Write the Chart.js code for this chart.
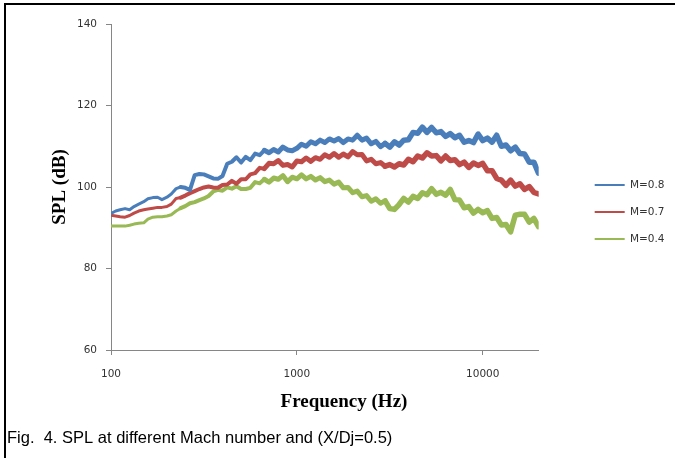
<!DOCTYPE html>
<html>
<head>
<meta charset="utf-8">
<script src="https://cdn.jsdelivr.net/npm/chart.js@4.4.1/dist/chart.umd.min.js"></script>
<style>
html, body { margin: 0; padding: 0; background: #fff; }
#wrap { width: 675px; height: 458px; position: relative; }
</style>
</head>
<body>
<div id="wrap"><canvas id="spl"></canvas></div>
<script>
// frequency bins (Hz), log spaced
const freq = [100, 106, 112, 119, 126, 133, 141, 150, 158, 168,
    178, 188, 200, 211, 224, 237, 251, 266, 282, 299,
    316, 335, 355, 376, 398, 422, 447, 473, 501, 531,
    562, 596, 631, 668, 708, 750, 794, 841, 891, 944,
    1000, 1059, 1122, 1189, 1259, 1334, 1413, 1496, 1585, 1679,
    1778, 1884, 1995, 2113, 2239, 2371, 2512, 2661, 2818, 2985,
    3162, 3350, 3548, 3758, 3981, 4217, 4467, 4732, 5012, 5309,
    5623, 5957, 6310, 6683, 7079, 7499, 7943, 8414, 8913, 9441,
    10000, 10593, 11220, 11885, 12589, 13335, 14125, 14962, 15849, 16788,
    17783, 18836, 19953];

const splM08 = [93.5, 94.1, 94.4, 94.7, 94.4, 95.2, 95.8, 96.4, 97.1, 97.4,
    97.5, 96.9, 97.5, 98.3, 99.6, 100.0, 99.8, 99.3, 102.9, 103.2,
    103.1, 102.6, 102.1, 102.0, 102.7, 105.7, 106.2, 107.3, 106.0, 107.4,
    106.6, 108.2, 107.8, 109.0, 108.4, 109.2, 108.6, 109.8, 109.1, 108.9,
    109.5, 110.5, 110.0, 111.1, 110.6, 111.5, 110.9, 111.8, 111.3, 111.9,
    110.9, 111.8, 111.5, 112.7, 111.5, 112.0, 110.6, 111.2, 109.9, 110.7,
    109.8, 111.1, 110.3, 111.5, 111.6, 113.4, 113.2, 114.7, 113.4, 114.6,
    113.3, 113.6, 112.4, 113.1, 112.1, 112.7, 111.0, 111.4, 110.9, 113.0,
    111.4, 112.0, 111.0, 112.7, 110.0, 110.3, 108.9, 109.8, 108.2, 108.1,
    106.1, 106.1, 103.4];

const splM07 = [93.1, 92.9, 92.7, 92.6, 93.0, 93.6, 94.1, 94.4, 94.6, 94.8,
    95.0, 95.0, 95.2, 95.8, 97.2, 97.4, 97.9, 98.5, 99.0, 99.5,
    99.9, 100.1, 99.9, 99.8, 100.5, 100.6, 101.5, 100.8, 101.9, 101.9,
    103.1, 103.4, 104.7, 104.5, 105.8, 105.7, 106.5, 105.3, 105.5, 104.9,
    106.4, 106.2, 107.1, 106.3, 107.2, 106.8, 107.9, 107.3, 108.2, 107.3,
    108.1, 107.4, 108.7, 107.9, 108.0, 106.4, 106.8, 105.7, 106.0, 105.1,
    105.5, 104.9, 105.7, 105.4, 106.8, 106.2, 107.6, 107.1, 108.4, 107.6,
    107.7, 106.4, 107.6, 106.5, 106.7, 105.5, 106.1, 104.8, 105.9, 105.3,
    105.8, 104.0, 104.0, 102.1, 101.7, 100.4, 101.7, 100.2, 100.8, 99.4,
    100.1, 98.7, 98.3];

const splM04 = [90.4, 90.4, 90.4, 90.4, 90.6, 90.9, 91.1, 91.2, 92.1, 92.6,
    92.7, 92.7, 92.9, 93.2, 94.1, 94.8, 95.3, 96.0, 96.3, 96.8,
    97.2, 97.8, 98.9, 99.3, 99.1, 99.9, 99.6, 100.2, 99.5, 99.5,
    99.8, 101.2, 100.9, 101.9, 101.2, 102.2, 101.9, 102.8, 101.3, 102.4,
    102.0, 103.0, 102.0, 102.6, 101.7, 102.3, 101.3, 101.7, 100.7, 101.2,
    99.8, 99.9, 98.6, 99.0, 97.6, 97.9, 96.5, 97.1, 96.0, 96.6,
    94.7, 94.5, 95.7, 97.2, 96.3, 97.7, 97.2, 98.6, 98.1, 99.6,
    98.2, 98.7, 98.0, 99.4, 96.9, 96.8, 94.9, 95.2, 93.6, 94.5,
    93.7, 94.2, 92.3, 92.5, 90.7, 90.8, 89.0, 93.1, 93.3, 93.3,
    91.4, 92.3, 90.3];

const seriesNames = ['M=0.8', 'M=0.7', 'M=0.4'];
const xTicks = [100, 1000, 10000];

function pts(vals) {
    return freq.map((f, i) => ({ x: f, y: vals[i] }));
}

// the measured lines get fuzzier (thicker) towards high frequency
function bandWidth(ctx) {
    const f = ctx.p1.parsed.x;
    if (f < 250) return 3;
    if (f < 700) return 4;
    if (f < 3000) return 5;
    return 5.5;
}

const frame = {
    id: 'frame',
    afterLayout(chart) {
        // push the legend over to the right and down a bit
        const lg = chart.legend;
        lg.left += 39.5; lg.right += 39.5;
        lg.top += 25; lg.bottom += 25;
    },
    afterDraw(chart) {
        const ctx = chart.ctx;
        ctx.save();
        ctx.fillStyle = '#000';
        ctx.fillRect(4, 3, 2, 455);
        ctx.fillRect(4, 3, 671, 2);
        ctx.textAlign = 'center';
        ctx.textBaseline = 'middle';
        ctx.font = 'bold 19px "Liberation Serif"';
        ctx.fillText('Frequency (Hz)', 344, 402);
        ctx.textAlign = 'left';
        ctx.font = '16.5px "Liberation Sans"';
        ctx.fillText('Fig.  4. SPL at different Mach number and (X/Dj=0.5)', 7, 438);
        ctx.restore();
    }
};

const tickFont = { family: 'DejaVu Sans', size: 10.5 };

new Chart(document.getElementById('spl'), {
    type: 'line',
    data: {
        datasets: [{
            label: seriesNames[0],
            data: pts(splM08),
            borderColor: '#4A7EBB',
            backgroundColor: '#4A7EBB',
            borderWidth: 2
        },
        {
            label: seriesNames[1],
            data: pts(splM07),
            borderColor: '#BE4B48',
            backgroundColor: '#BE4B48',
            borderWidth: 2
        },
        {
            label: seriesNames[2],
            data: pts(splM04),
            borderColor: '#98B954',
            backgroundColor: '#98B954',
            borderWidth: 2
        }]
    },
    options: {
        responsive: true,
        maintainAspectRatio: false,
        animation: false,
        elements: {
            point: { radius: 0 },
            line: { tension: 0, borderJoinStyle: 'round', borderCapStyle: 'round' }
        },
        datasets: {
            line: { segment: { borderWidth: bandWidth } }
        },
        layout: { padding: { top: 24, right: 40, bottom: 0, left: 0 } },
        scales: {
            x: {
                type: 'logarithmic',
                min: 100,
                max: 20000,
                afterFit: (s) => { s.height = 108; },
                afterBuildTicks: (s) => { s.ticks = xTicks.map(v => ({ value: v })); },
                grid: { drawOnChartArea: false, tickLength: 5, color: '#868686' },
                border: { color: '#868686' },
                ticks: {
                    padding: 13,
                    color: '#333',
                    font: tickFont,
                    maxRotation: 0,
                    callback: (v) => String(v)
                }
            },
            y: {
                min: 60,
                max: 140,
                afterFit: (s) => { s.width = 111; },
                grid: { drawOnChartArea: false, tickLength: 5, color: '#868686' },
                border: { color: '#868686' },
                ticks: { stepSize: 20, padding: 9, color: '#333', font: tickFont },
                title: {
                    display: true,
                    text: 'SPL (dB)',
                    color: '#000',
                    padding: { top: 49, bottom: 0 },
                    font: { family: 'Liberation Serif', size: 19, weight: 'bold' }
                }
            }
        },
        plugins: {
            legend: {
                position: 'right',
                fullSize: false,
                labels: {
                    usePointStyle: true,
                    pointStyle: 'line',
                    pointStyleWidth: 30,
                    padding: 16.5,
                    color: '#333',
                    font: tickFont
                }
            },
            tooltip: { enabled: false }
        }
    },
    plugins: [frame]
});
</script>
</body>
</html>
